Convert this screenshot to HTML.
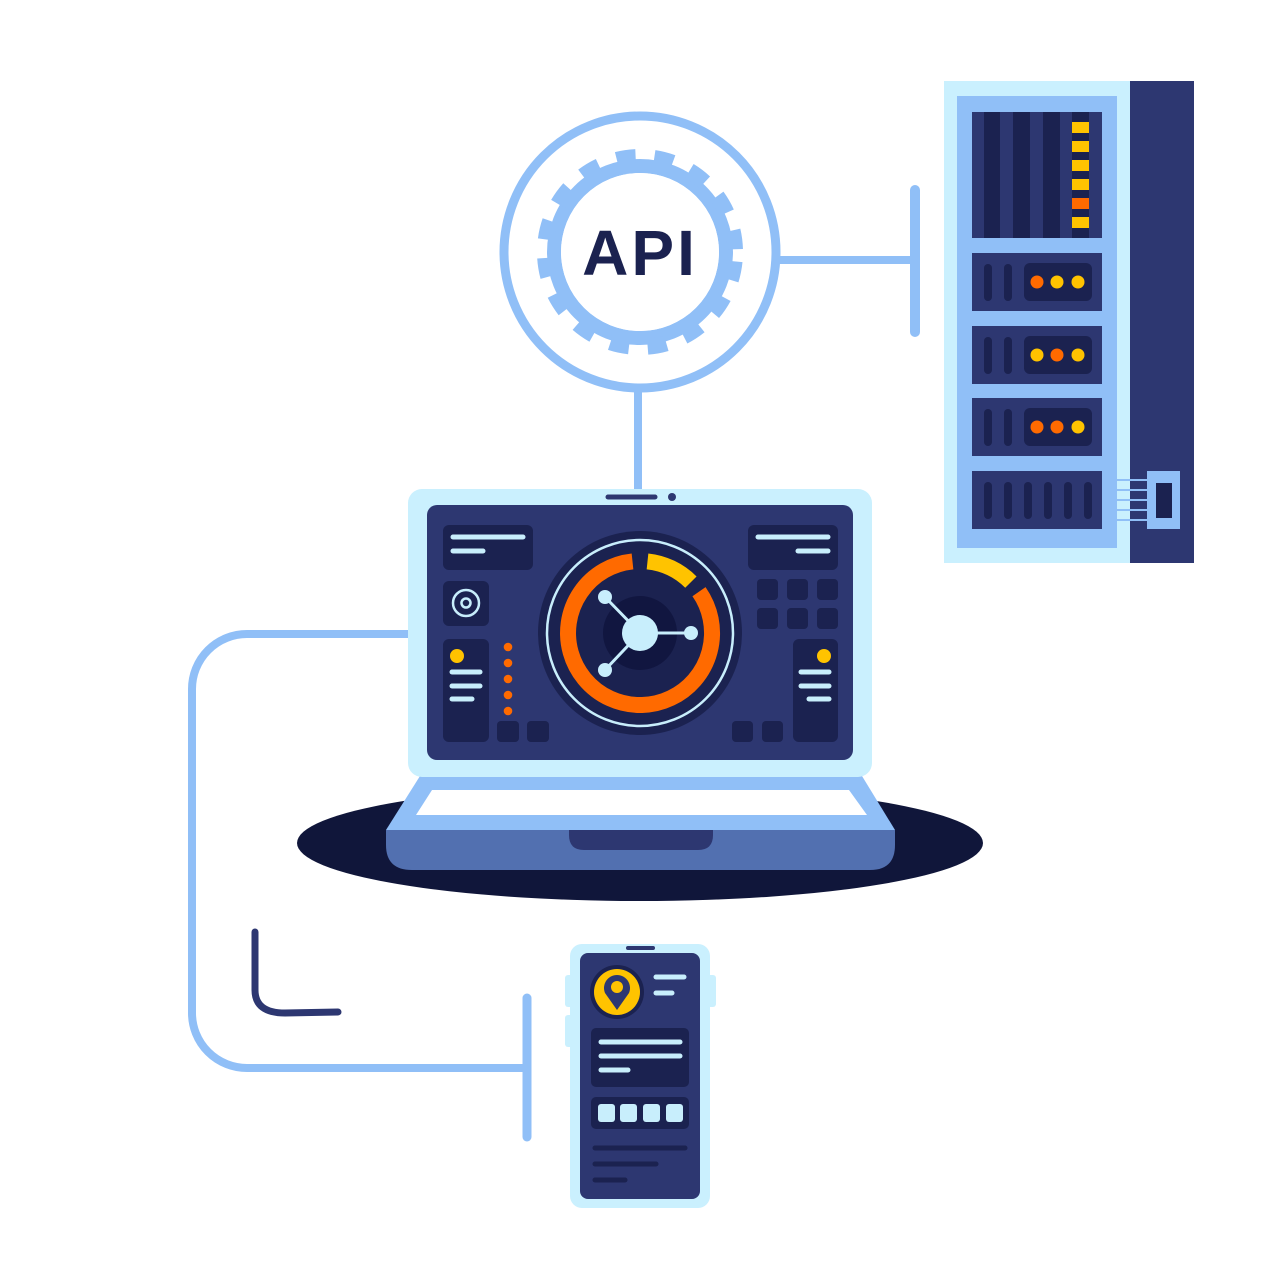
<!DOCTYPE html>
<html><head><meta charset="utf-8"><style>html,body{margin:0;padding:0;background:#fff}svg{display:block}</style></head>
<body>
<svg width="1280" height="1280" viewBox="0 0 1280 1280" xmlns="http://www.w3.org/2000/svg">
<g stroke="#90bff7" fill="none" stroke-linecap="round">
<line x1="638" y1="388" x2="638" y2="490" stroke-width="8"/>
<line x1="778" y1="260" x2="915" y2="260" stroke-width="8"/>
<line x1="915" y1="190" x2="915" y2="332" stroke-width="10"/>
<path d="M410 634 H247 A55 55 0 0 0 192 689 V1013 A55 55 0 0 0 247 1068 H527" stroke-width="8"/>
<line x1="527" y1="998" x2="527" y2="1137" stroke-width="9"/>
</g>
<path d="M255 932 V990 Q255 1013 285 1013 L338 1012" stroke="#2d3771" stroke-width="7" fill="none" stroke-linecap="round"/>
<circle cx="640" cy="252" r="136" fill="#fff" stroke="#90bff7" stroke-width="9"/>
<circle cx="640" cy="252" r="86" fill="none" stroke="#90bff7" stroke-width="14"/>
<circle cx="640" cy="252" r="95" fill="none" stroke="#90bff7" stroke-width="16" stroke-dasharray="19 18.7" stroke-dashoffset="-9.4"/>
<circle cx="640" cy="252" r="79" fill="#fff"/>
<text x="640" y="275" text-anchor="middle" font-family="Liberation Sans, sans-serif" font-weight="bold" font-size="64" fill="#1b2250" letter-spacing="3">API</text>
<rect x="944" y="81" width="190" height="482" fill="#caf0fe"/>
<rect x="1130" y="81" width="64" height="482" fill="#2d3771"/>
<rect x="957" y="96" width="160" height="452" fill="#90bff7"/>
<rect x="972" y="112" width="130" height="126" fill="#2d3771"/>
<g fill="#1b2250"><rect x="984" y="112" width="16" height="126"/><rect x="1013" y="112" width="17" height="126"/><rect x="1043" y="112" width="17" height="126"/><rect x="1072" y="112" width="17" height="126"/></g>
<g fill="#ffc300"><rect x="1072" y="122" width="17" height="11"/><rect x="1072" y="141" width="17" height="11"/><rect x="1072" y="160" width="17" height="11"/><rect x="1072" y="179" width="17" height="11"/><rect x="1072" y="217" width="17" height="11"/></g>
<rect x="1072" y="198" width="17" height="11" fill="#ff6a00"/>
<g fill="#2d3771"><rect x="972" y="253" width="130" height="58"/><rect x="972" y="326" width="130" height="58"/><rect x="972" y="398" width="130" height="58"/><rect x="972" y="471" width="130" height="58"/></g>
<g fill="#1b2250">
<rect x="984" y="264" width="8" height="37" rx="4"/><rect x="1004" y="264" width="8" height="37" rx="4"/><rect x="1024" y="263" width="68" height="38" rx="6"/>
<rect x="984" y="337" width="8" height="37" rx="4"/><rect x="1004" y="337" width="8" height="37" rx="4"/><rect x="1024" y="336" width="68" height="38" rx="6"/>
<rect x="984" y="409" width="8" height="37" rx="4"/><rect x="1004" y="409" width="8" height="37" rx="4"/><rect x="1024" y="408" width="68" height="38" rx="6"/>
<rect x="984" y="482" width="8" height="37" rx="4"/><rect x="1004" y="482" width="8" height="37" rx="4"/><rect x="1024" y="482" width="8" height="37" rx="4"/><rect x="1044" y="482" width="8" height="37" rx="4"/><rect x="1064" y="482" width="8" height="37" rx="4"/><rect x="1084" y="482" width="8" height="37" rx="4"/>
</g>
<circle cx="1037" cy="282" r="6.5" fill="#ff6a00"/><circle cx="1057" cy="282" r="6.5" fill="#ffc300"/><circle cx="1078" cy="282" r="6.5" fill="#ffc300"/>
<circle cx="1037" cy="355" r="6.5" fill="#ffc300"/><circle cx="1057" cy="355" r="6.5" fill="#ff6a00"/><circle cx="1078" cy="355" r="6.5" fill="#ffc300"/>
<circle cx="1037" cy="427" r="6.5" fill="#ff6a00"/><circle cx="1057" cy="427" r="6.5" fill="#ff6a00"/><circle cx="1078" cy="427" r="6.5" fill="#ffc300"/>
<g stroke="#90bff7" stroke-width="2"><line x1="1117" y1="480" x2="1148" y2="480"/><line x1="1117" y1="490" x2="1148" y2="490"/><line x1="1117" y1="500" x2="1148" y2="500"/><line x1="1117" y1="510" x2="1148" y2="510"/><line x1="1117" y1="520" x2="1148" y2="520"/></g>
<rect x="1147" y="471" width="33" height="58" fill="#90bff7"/>
<rect x="1156" y="483" width="16" height="35" fill="#1b2250"/>
<ellipse cx="640" cy="843" rx="343" ry="58" fill="#10163a"/>
<path d="M420 776 H862 L895 830 H386 Z" fill="#90bff7"/>
<path d="M432 790 H849 L867 815 H416 Z" fill="#fff"/>
<path d="M386 830 H895 V845 Q895 870 870 870 H412 Q386 870 386 845 Z" fill="#5270b0"/>
<path d="M569 830 H713 V835 Q713 850 698 850 H584 Q569 850 569 835 Z" fill="#2d3771"/>
<rect x="408" y="489" width="464" height="288" rx="14" fill="#caf0fe"/>
<rect x="427" y="505" width="426" height="255" rx="10" fill="#2d3771"/>
<line x1="608" y1="497" x2="655" y2="497" stroke="#2d3771" stroke-width="5" stroke-linecap="round"/>
<circle cx="672" cy="497" r="4" fill="#2d3771"/>
<g fill="#1b2250">
<rect x="443" y="525" width="90" height="45" rx="6"/>
<rect x="443" y="581" width="46" height="45" rx="6"/>
<rect x="443" y="639" width="46" height="103" rx="6"/>
<rect x="497" y="721" width="22" height="21" rx="4"/><rect x="527" y="721" width="22" height="21" rx="4"/>
<rect x="748" y="525" width="90" height="45" rx="6"/>
<rect x="757" y="579" width="21" height="21" rx="4"/><rect x="787" y="579" width="21" height="21" rx="4"/><rect x="817" y="579" width="21" height="21" rx="4"/>
<rect x="757" y="608" width="21" height="21" rx="4"/><rect x="787" y="608" width="21" height="21" rx="4"/><rect x="817" y="608" width="21" height="21" rx="4"/>
<rect x="793" y="639" width="45" height="103" rx="6"/>
<rect x="732" y="721" width="21" height="21" rx="4"/><rect x="762" y="721" width="21" height="21" rx="4"/>
</g>
<g stroke="#c8eefc" stroke-width="5" stroke-linecap="round">
<line x1="453" y1="537" x2="523" y2="537"/><line x1="453" y1="551" x2="483" y2="551"/>
<line x1="758" y1="537" x2="828" y2="537"/><line x1="798" y1="551" x2="828" y2="551"/>
<line x1="452" y1="672" x2="480" y2="672"/><line x1="452" y1="686" x2="480" y2="686"/><line x1="452" y1="699" x2="472" y2="699"/>
<line x1="801" y1="672" x2="829" y2="672"/><line x1="801" y1="686" x2="829" y2="686"/><line x1="809" y1="699" x2="829" y2="699"/>
</g>
<circle cx="466" cy="603" r="13" fill="none" stroke="#c8eefc" stroke-width="2.5"/>
<circle cx="466" cy="603" r="4.5" fill="none" stroke="#c8eefc" stroke-width="2.5"/>
<circle cx="457" cy="656" r="7" fill="#ffc300"/><circle cx="824" cy="656" r="7" fill="#ffc300"/>
<g fill="#ff6a00"><circle cx="508" cy="647" r="4.3"/><circle cx="508" cy="663" r="4.3"/><circle cx="508" cy="679" r="4.3"/><circle cx="508" cy="695" r="4.3"/><circle cx="508" cy="711" r="4.3"/></g>
<circle cx="640" cy="633" r="102" fill="#1b2250"/>
<circle cx="640" cy="633" r="93" fill="none" stroke="#c8eefc" stroke-width="2.5"/>
<path d="M 699.0 591.7 A 72 72 0 1 1 632.5 561.4" fill="none" stroke="#ff6a00" stroke-width="16"/>
<path d="M 647.5 561.4 A 72 72 0 0 1 690.9 582.1" fill="none" stroke="#ffc300" stroke-width="16"/>
<circle cx="640" cy="633" r="37" fill="#111640"/>
<g stroke="#c8eefc" stroke-width="3"><line x1="640" y1="633" x2="605" y2="597"/><line x1="640" y1="633" x2="605" y2="670"/><line x1="640" y1="633" x2="691" y2="633"/></g>
<g fill="#c8eefc"><circle cx="640" cy="633" r="18"/><circle cx="605" cy="597" r="7"/><circle cx="605" cy="670" r="7"/><circle cx="691" cy="633" r="7"/></g>
<rect x="565" y="975" width="10" height="32" rx="3" fill="#caf0fe"/>
<rect x="565" y="1015" width="10" height="32" rx="3" fill="#caf0fe"/>
<rect x="706" y="975" width="10" height="32" rx="3" fill="#caf0fe"/>
<rect x="570" y="944" width="140" height="264" rx="12" fill="#caf0fe"/>
<rect x="580" y="953" width="120" height="246" rx="8" fill="#2d3771"/>
<line x1="628" y1="948" x2="653" y2="948" stroke="#2d3771" stroke-width="4" stroke-linecap="round"/>
<circle cx="617" cy="992" r="27" fill="#1b2250"/>
<circle cx="617" cy="992" r="23" fill="#ffc300"/>
<path d="M617 1010 L605 993 A13 13 0 1 1 629 993 Z" fill="#2d3771"/>
<circle cx="617" cy="987" r="6" fill="#ffc300"/>
<g fill="#1b2250"><rect x="591" y="1028" width="98" height="59" rx="5"/><rect x="591" y="1097" width="98" height="32" rx="5"/></g>
<g stroke="#c8eefc" stroke-width="5" stroke-linecap="round">
<line x1="656" y1="977" x2="684" y2="977"/><line x1="656" y1="993" x2="672" y2="993"/>
<line x1="601" y1="1042" x2="680" y2="1042"/><line x1="601" y1="1056" x2="680" y2="1056"/><line x1="601" y1="1070" x2="628" y2="1070"/>
</g>
<g fill="#c8eefc"><rect x="598" y="1104" width="17" height="18" rx="3"/><rect x="620" y="1104" width="17" height="18" rx="3"/><rect x="643" y="1104" width="17" height="18" rx="3"/><rect x="666" y="1104" width="17" height="18" rx="3"/></g>
<g stroke="#1b2250" stroke-width="5" stroke-linecap="round"><line x1="595" y1="1148" x2="685" y2="1148"/><line x1="595" y1="1164" x2="656" y2="1164"/><line x1="595" y1="1180" x2="625" y2="1180"/></g>
</svg>
</body></html>
